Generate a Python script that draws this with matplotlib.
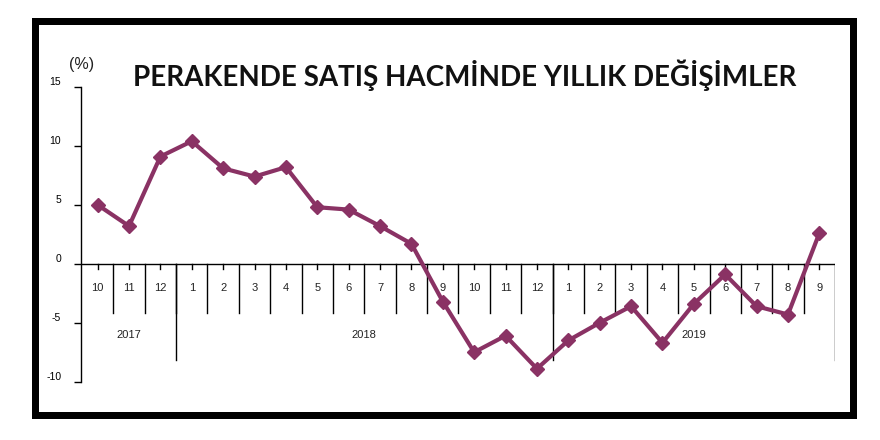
import matplotlib
matplotlib.use("Agg")
import matplotlib.pyplot as plt
from matplotlib.patches import Rectangle

# Data: yearly change in retail sales volume (%)
months = ["10", "11", "12",
          "1", "2", "3", "4", "5", "6", "7", "8", "9", "10", "11", "12",
          "1", "2", "3", "4", "5", "6", "7", "8", "9"]
years = ["2017", "2018", "2019"]
year_counts = [3, 12, 9]
values = [5.0, 3.2, 9.1,
          10.4, 8.1, 7.4, 8.2, 4.8, 4.6, 3.2, 1.7, -3.2, -7.5, -6.1, -8.9,
          -6.5, -5.0, -3.6, -6.7, -3.4, -0.9, -3.6, -4.3, 2.6]
yticks = [-10, -5, 0, 5, 10, 15]

line_color = "#8a3264"
x = list(range(len(values)))

fig = plt.figure(figsize=(8.8, 4.4), dpi=100)
ax = fig.add_axes([0.0917, 0.1325, 0.8572, 0.6698])

ax.plot(x, values, color=line_color, lw=3, marker="D", ms=7,
        markeredgecolor=line_color, zorder=3)

ax.set_xlim(-0.54, len(values) - 0.5)
ax.set_ylim(-10, 15)

for s in ["top", "right", "bottom"]:
    ax.spines[s].set_visible(False)
ax.spines["left"].set_linewidth(1)
ax.set_xticks([])
ax.set_yticks(yticks)
ax.set_yticklabels([str(t) for t in yticks], va="bottom",
                   fontfamily="Liberation Sans", fontsize=7.5)
ax.tick_params(axis="y", direction="out", length=5, width=1, pad=9)

# zero line
ax.axhline(0, color="black", lw=1, zorder=2)

# month labels, small ticks and separators
for i, m in enumerate(months):
    ax.text(i, -2.05, m, ha="center", va="center", fontsize=8,
            fontfamily="Liberation Sans", color="#222222")
    ax.plot([i, i], [0, -0.4], color="black", lw=1)
for i in range(len(months) - 1):
    ax.plot([i + 0.5, i + 0.5], [0, -4.15], color="black", lw=1)

# year labels, longer lines at the end of each year block
start = 0
for y, c in zip(years, year_counts):
    ax.text(start + (c - 1) / 2, -6.05, y, ha="center", va="center",
            fontsize=8, fontfamily="Liberation Sans", color="#222222")
    start += c
    ax.plot([start - 0.5, start - 0.5], [0, -8.2], color="black", lw=1)

fig.text(82 / 880, 1 - 64 / 440, "(%)", fontsize=11.5,
         fontfamily="Liberation Sans", color="#222222",
         ha="center", va="center")

fig.text(0.528, 0.83, "PERAKENDE SATIŞ HACMİNDE YILLIK DEĞİŞİMLER",
         ha="center", va="center", fontsize=20, fontweight="bold",
         fontfamily="Lato", color="#111111")

# thick black frame
fig.patches.append(Rectangle((34.5 / 880, 1 - 415 / 440), 818 / 880, 394 / 440,
                             transform=fig.transFigure, fill=False,
                             edgecolor="black", lw=5.04))

fig.savefig("out.png", dpi=100)
